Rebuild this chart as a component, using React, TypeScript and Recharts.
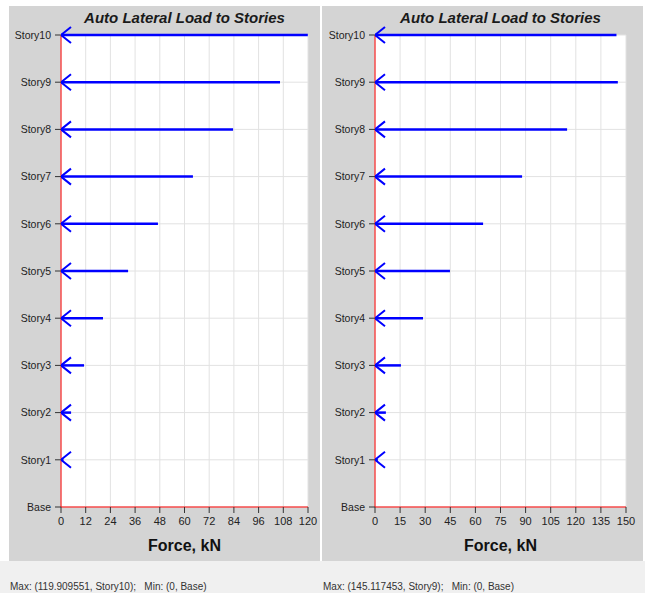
import React from 'react';
import { ScatterChart, Scatter, XAxis, YAxis, CartesianGrid } from 'recharts';

const stories = ['Base', 'Story1', 'Story2', 'Story3', 'Story4', 'Story5', 'Story6', 'Story7', 'Story8', 'Story9', 'Story10'];
const leftForces = [0, 1.2, 4.9, 11.2, 20.4, 32.6, 47.1, 64.1, 83.6, 106.4, 119.909551];
const rightForces = [0, 1.7, 6.5, 15.5, 28.7, 44.8, 64.6, 87.9, 114.8, 145.117453, 144.3];
const leftTicks = [0, 12, 24, 36, 48, 60, 72, 84, 96, 108, 120];
const rightTicks = [0, 15, 30, 45, 60, 75, 90, 105, 120, 135, 150];
const title = 'Auto Lateral Load to Stories';
const xLabel = 'Force, kN';
const leftNote = 'Max: (119.909551, Story10);   Min: (0, Base)';
const rightNote = 'Max: (145.117453, Story9);   Min: (0, Base)';

const FONT = '"Liberation Sans", Arial, sans-serif';
const BLUE = '#0000ff';

const ArrowHead = (props: any) => {
  const { cx, cy, payload } = props;
  if (!payload || payload.x !== 0) return <g />;
  return (
    <path
      d={`M${cx + 10},${cy - 8} L${cx},${cy} L${cx + 10},${cy + 8}`}
      stroke={BLUE}
      strokeWidth={2}
      fill="none"
    />
  );
};

type PanelProps = {
  left: number;
  width: number;
  forces: number[];
  ticks: number[];
  yAxisWidth: number;
  rightMargin: number;
  note: string;
};

const Panel = ({ left, width, forces, ticks, yAxisWidth, rightMargin, note }: PanelProps) => {
  const height = 555;
  const plotLeft = yAxisWidth;
  const plotWidth = width - yAxisWidth - rightMargin;
  const maxX = ticks[ticks.length - 1];
  const segments = forces
    .map((v, i) => ({ i, v }))
    .filter((s) => s.v > 0)
    .map((s) => [
      { x: 0, y: s.i },
      { x: s.v, y: s.i },
    ]);
  return (
    <>
      <div
        style={{
          position: 'absolute',
          left,
          top: 6,
          width,
          height,
          background: '#d4d4d4',
        }}
      >
        <div
          style={{
            position: 'absolute',
            left: plotLeft,
            width: plotWidth,
            top: 3,
            height: 18,
            lineHeight: '18px',
            textAlign: 'center',
            fontFamily: FONT,
            fontWeight: 'bold',
            fontStyle: 'italic',
            fontSize: 15,
            color: '#1a1a1a',
            whiteSpace: 'nowrap',
          }}
        >
          {title}
        </div>
        <ScatterChart
          width={width}
          height={height}
          margin={{ top: 29, right: rightMargin, bottom: 0, left: 0 }}
        >
          <CartesianGrid stroke="#e2e2e2" fill="#ffffff" />
          <XAxis
            type="number"
            dataKey="x"
            domain={[0, maxX]}
            ticks={ticks}
            allowDataOverflow
            height={54}
            tickSize={6}
            tickMargin={4}
            axisLine={{ stroke: '#ff0000' }}
            tickLine={{ stroke: '#333' }}
            tick={{ fill: '#222', fontSize: 11, fontFamily: FONT }}
            interval={0}
          />
          <YAxis
            type="number"
            dataKey="y"
            domain={[0, 10]}
            ticks={stories.map((_, i) => i)}
            tickFormatter={(i: number) => stories[i]}
            width={yAxisWidth}
            tickSize={6}
            tickMargin={4}
            axisLine={{ stroke: '#ff0000' }}
            tickLine={{ stroke: '#333' }}
            tick={{ fill: '#222', fontSize: 10.5, fontFamily: FONT }}
            interval={0}
          />
          {segments.map((seg, k) => (
            <Scatter
              key={k}
              data={seg}
              fill={BLUE}
              line={{ stroke: BLUE, strokeWidth: 2.5 }}
              lineType="joint"
              shape={ArrowHead}
              isAnimationActive={false}
            />
          ))}
        </ScatterChart>
        <div
          style={{
            position: 'absolute',
            left: plotLeft,
            width: plotWidth,
            top: 530,
            height: 20,
            lineHeight: '20px',
            textAlign: 'center',
            fontFamily: FONT,
            fontWeight: 'bold',
            fontSize: 16,
            color: '#111',
          }}
        >
          {xLabel}
        </div>
      </div>
      <div
        style={{
          position: 'absolute',
          left: left + 1,
          top: 581,
          height: 12,
          lineHeight: '12px',
          fontFamily: FONT,
          fontSize: 10,
          color: '#333',
          whiteSpace: 'pre',
        }}
      >
        {note}
      </div>
    </>
  );
};

export default function App() {
  return (
    <div
      style={{
        position: 'absolute',
        left: 0,
        top: 0,
        width: 645,
        height: 593,
        background: '#ffffff',
        overflow: 'hidden',
      }}
    >
      <div
        style={{
          position: 'absolute',
          left: 0,
          top: 561,
          width: 645,
          height: 32,
          background: '#f0f0f0',
        }}
      />
      <Panel
        left={9}
        width={311}
        forces={leftForces}
        ticks={leftTicks}
        yAxisWidth={52}
        rightMargin={12}
        note={leftNote}
      />
      <Panel
        left={322}
        width={321}
        forces={rightForces}
        ticks={rightTicks}
        yAxisWidth={53}
        rightMargin={17}
        note={rightNote}
      />
    </div>
  );
}
